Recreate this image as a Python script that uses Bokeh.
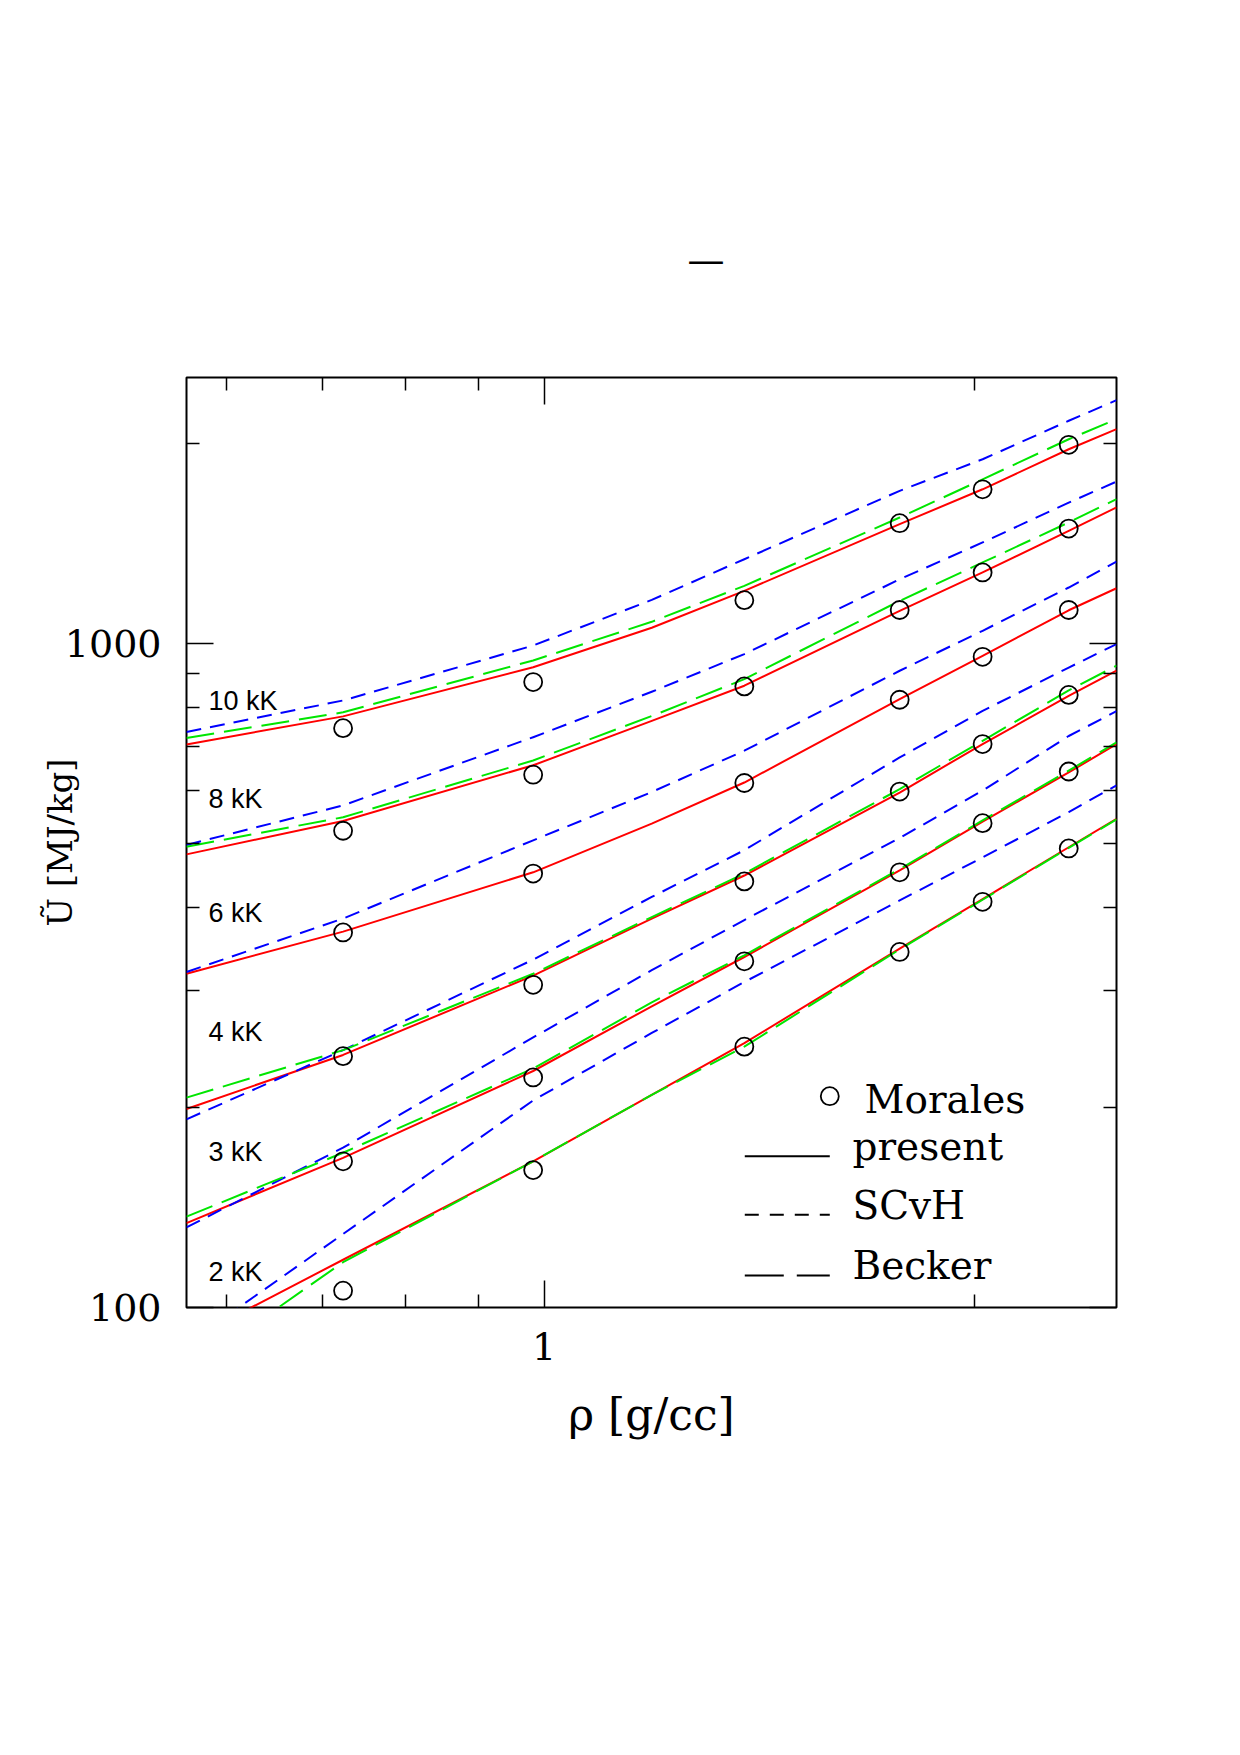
import math

from bokeh.plotting import figure
from bokeh.models import (FixedTicker, LogAxis, Label, PrintfTickFormatter,
                          CustomJSTickFormatter, Range1d, Title)
from bokeh.embed import file_html
from bokeh.resources import INLINE

# ---------------------------------------------------------------- data
# density grid [g/cc] on which the model isotherms are tabulated
rho_grid = [0.5623, 0.7235, 0.9824, 1.189, 1.380, 1.772, 2.025, 2.326, 2.512]

# internal energy U [MJ/kg] along each isotherm -- present model
present_10kK = [704, 776, 920, 1055, 1199, 1511, 1705, 1959, 2100]
present_8kK = [481, 540, 655, 764, 863, 1119, 1278, 1476, 1601]
present_6kK = [318, 368, 452, 535, 617, 824, 957, 1121, 1210]
present_4kK = [199, 240, 316, 385, 447, 596, 705, 833, 909]
present_3kK = [134, 168, 227, 284, 337, 455, 539, 639, 705]
present_2kK = [89, 118, 166, 209, 250, 347, 412, 493, 544]

# SCvH tables
scvh_10kK = [735, 820, 992, 1162, 1338, 1696, 1892, 2162, 2322]
scvh_8kK = [497, 570, 722, 845, 963, 1248, 1418, 1628, 1751]
scvh_6kK = [320, 385, 505, 597, 689, 909, 1044, 1213, 1327]
scvh_4kK = [192, 244, 334, 415, 488, 673, 791, 919, 997]
scvh_3kK = [132, 174, 255, 322, 383, 509, 600, 725, 790]
scvh_2kK = [88, 129, 205, 259, 309, 410, 476, 557, 611]

# Becker et al. (no 6 kK isotherm)
becker_10kK = [720, 787, 942, 1077, 1220, 1546, 1765, 2028, 2174]
becker_8kK = [494, 547, 666, 777, 883, 1158, 1323, 1520, 1648]
becker_4kK = [207, 244, 318, 387, 450, 603, 713, 849, 925]
becker_3kK = [137, 171, 229, 288, 339, 457, 541, 643, 709]
becker_2kK = [80, 117, 166, 209, 247, 346, 411, 492, 543]

# Morales et al. ab initio points
rho_morales = [0.7235, 0.9824, 1.380, 1.772, 2.025, 2.326]
morales_10kK = [745, 874, 1161, 1516, 1705, 1989]
morales_8kK = [522, 634, 861, 1122, 1278, 1488]
morales_6kK = [367, 450, 616, 822, 954, 1122]
morales_4kK = [239, 306, 438, 598, 705, 836]
morales_3kK = [166, 222, 332, 452, 536, 641]
morales_2kK = [106, 161, 247, 343, 408, 491]

isotherm_names = ["10 kK", "8 kK", "6 kK", "4 kK", "3 kK", "2 kK"]

x_major = [1]
x_minor = [0.6, 0.7, 0.8, 0.9, 2]
y_major = [100, 1000]
y_minor = [200, 300, 400, 500, 600, 700, 800, 900, 2000]

# ---------------------------------------------------------------- figure
RHO_MIN, RHO_MAX = 10 ** -0.25, 10 ** 0.4
U_MIN, U_MAX = 100.0, 10 ** 3.4
FRAME = 930

SERIF = "DejaVu Serif"
SANS = "Liberation Sans"

p = figure(frame_width=FRAME, frame_height=FRAME,
           x_axis_type="log", y_axis_type="log",
           x_range=Range1d(RHO_MIN, RHO_MAX), y_range=Range1d(U_MIN, U_MAX),
           min_border_left=186, min_border_right=124,
           min_border_top=377, min_border_bottom=448,
           output_backend="svg", toolbar_location=None)
p.background_fill_color = "white"
p.border_fill_color = "white"
p.xgrid.visible = False
p.ygrid.visible = False
p.outline_line_color = "black"
p.outline_line_width = 2


def style_axis(ax, major, minor, labelled):
    ax.ticker = FixedTicker(ticks=major, minor_ticks=minor)
    ax.axis_line_color = None
    ax.major_tick_in = 27
    ax.major_tick_out = 0
    ax.minor_tick_in = 13
    ax.minor_tick_out = 0
    ax.major_tick_line_color = "black"
    ax.minor_tick_line_color = "black"
    ax.major_tick_line_width = 1.5
    ax.minor_tick_line_width = 1.5
    if labelled:
        ax.formatter = PrintfTickFormatter(format="%d")
        ax.major_label_text_font = SERIF
        ax.major_label_text_font_size = "38px"
        ax.major_label_text_color = "black"
        ax.axis_label_text_font = SERIF
        ax.axis_label_text_font_style = "normal"
        ax.axis_label_text_color = "black"
    else:
        ax.formatter = CustomJSTickFormatter(code="return ''")
        ax.major_label_standoff = 0


style_axis(p.xaxis[0], x_major, x_minor, True)
style_axis(p.yaxis[0], y_major, y_minor, True)
p.xaxis[0].major_label_standoff = 25
p.yaxis[0].major_label_standoff = 25

p.xaxis[0].axis_label = "ρ [g/cc]"
p.xaxis[0].axis_label_text_font_size = "44px"
p.xaxis[0].axis_label_standoff = 26
p.yaxis[0].axis_label = "Ũ [MJ/kg]"
p.yaxis[0].axis_label_text_font_size = "34px"
p.yaxis[0].axis_label_standoff = -18

# mirrored ticks on the top and right edges of the box
top_axis = LogAxis()
right_axis = LogAxis()
style_axis(top_axis, x_major, x_minor, False)
style_axis(right_axis, y_major, y_minor, False)
p.add_layout(top_axis, "above")
p.add_layout(right_axis, "right")

# the short rule over the plot
p.add_layout(Title(text="—", align="left", offset=501, standoff=191,
                   text_font=SERIF, text_font_size="37px",
                   text_font_style="normal", text_color="black"), "above")

# ---------------------------------------------------------------- curves
present = [present_10kK, present_8kK, present_6kK, present_4kK, present_3kK, present_2kK]
scvh = [scvh_10kK, scvh_8kK, scvh_6kK, scvh_4kK, scvh_3kK, scvh_2kK]
becker = [becker_10kK, becker_8kK, becker_4kK, becker_3kK, becker_2kK]
morales = [morales_10kK, morales_8kK, morales_6kK, morales_4kK, morales_3kK, morales_2kK]

RED, BLUE, GREEN = "#ff0000", "#0000ff", "#00e600"
SCVH_DASH = "15 9"
BECKER_DASH = "28 10"

for u in present:
    p.line(rho_grid, u, line_color=RED, line_width=2, line_join="round")
for u in scvh:
    p.line(rho_grid, u, line_color=BLUE, line_width=2, line_dash=SCVH_DASH,
           line_join="round")
for u in becker:
    p.line(rho_grid, u, line_color=GREEN, line_width=2, line_dash=BECKER_DASH,
           line_join="round")
for u in morales:
    p.scatter(rho_morales, u, marker="circle", size=18, fill_color=None,
              line_color="black", line_width=1.8)

# ---------------------------------------------------------------- annotations
LX0, LX1 = math.log10(RHO_MIN), math.log10(RHO_MAX)
LY0, LY1 = math.log10(U_MIN), math.log10(U_MAX)


def frame_point(fx, fy):
    """Fractional frame position -> data coordinates."""
    return 10 ** (LX0 + fx * (LX1 - LX0)), 10 ** (LY0 + fy * (LY1 - LY0))


def screen_label(text, x, y, font, size, align="left", baseline="alphabetic"):
    p.add_layout(Label(x=x, y=y, x_units="screen", y_units="screen", text=text,
                       text_font=font, text_font_size=size, text_color="black",
                       text_align=align, text_baseline=baseline,
                       text_font_style="normal"))


# isotherm names along the left edge
for name, y in zip(isotherm_names, [607, 509, 395, 276, 156, 36]):
    screen_label(name, 22, y, SANS, "27px")

# legend keys
mx, my = frame_point(0.6917, 0.2272)
p.scatter([mx], [my], marker="circle", size=18, fill_color=None,
          line_color="black", line_width=1.8)
for fy, dash in [(0.1627, "solid"), (0.0997, "14 11"), (0.0344, "39 13")]:
    x0, y0 = frame_point(0.6003, fy)
    x1, _ = frame_point(0.6917, fy)
    p.line([x0, x1], [y0, y0], line_color="black", line_width=2, line_dash=dash)

screen_label("Morales", 678, 208, SERIF, "39px")
screen_label("present", 666, 161, SERIF, "39px")
screen_label("SCvH", 666, 102, SERIF, "39px")
screen_label("Becker", 666, 42, SERIF, "39px")

open("out.html", "w").write(file_html(p, INLINE))
